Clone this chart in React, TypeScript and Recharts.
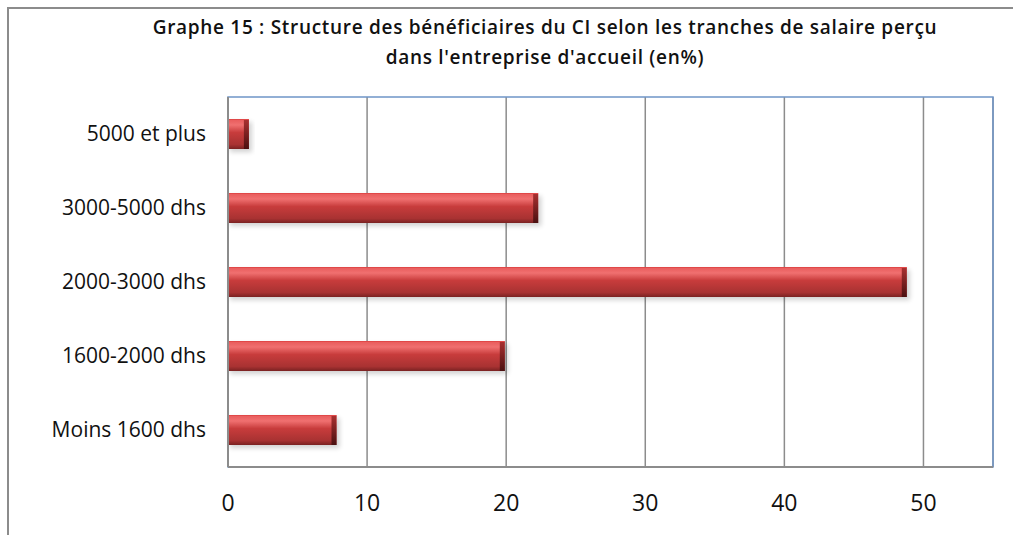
import React from "react";
import { BarChart, Bar, XAxis, YAxis, CartesianGrid, ReferenceArea } from "recharts";

const categories = ["5000 et plus", "3000-5000 dhs", "2000-3000 dhs", "1600-2000 dhs", "Moins 1600 dhs"];
const values = [1.5, 22.3, 48.8, 19.9, 7.8];
const xTicks = [0, 10, 20, 30, 40, 50];

const data = categories.map((c, i) => ({ cat: c, v: values[i] }));

const FONT = "'Open Sans', Lato, sans-serif";

const BarShape = (props: any) => {
  const { x, y, width, height } = props;
  if (width <= 0) return null;
  const cap = Math.min(5, width / 3);
  return (
    <g>
      <rect x={x + 2} y={y + 3} width={width + 1} height={height} fill="#000" opacity={0.18} filter="url(#blurSh)" />
      <rect x={x} y={y} width={width} height={height} fill="url(#barGrad)" />
      <rect x={x + width - cap} y={y + 1} width={cap} height={height - 1} fill="url(#capGrad)" />
      <line x1={x} x2={x + width} y1={y + 0.5} y2={y + 0.5} stroke="#e04848" strokeWidth={1} />
    </g>
  );
};

export default function App() {
  return (
    <div style={{ position: "absolute", left: 0, top: 0, width: 1013, height: 535, background: "#fff", overflow: "hidden" }}>
      <div style={{ position: "absolute", left: 7, top: 7, width: 1020, height: 540, borderLeft: "2px solid #8c8c8c", borderTop: "2px solid #8c8c8c" }} />
      <div
        style={{
          position: "absolute",
          left: 0,
          width: 1090,
          top: 12,
          textAlign: "center",
          fontFamily: FONT,
          fontSize: 19,
          fontWeight: 600,
          lineHeight: "30px",
          color: "#111",
          letterSpacing: 0.7,
        }}
      >
        Graphe 15 : Structure des bénéficiaires du CI selon les tranches de salaire perçu
        <br />
        dans l'entreprise d'accueil (en%)
      </div>
      <div style={{ position: "absolute", left: 0, top: 0 }}>
        <BarChart
          width={1013}
          height={535}
          data={data}
          layout="vertical"
          margin={{ top: 97, right: 20, bottom: 28, left: 8 }}
          barCategoryGap={22}
        >
          <defs>
            <linearGradient id="barGrad" x1="0" y1="0" x2="0" y2="1">
              <stop offset="0" stopColor="#e85a5a" />
              <stop offset="0.2" stopColor="#f07070" />
              <stop offset="0.45" stopColor="#c83c3c" />
              <stop offset="0.85" stopColor="#a83232" />
              <stop offset="1" stopColor="#7a2222" />
            </linearGradient>
            <linearGradient id="capGrad" x1="0" y1="0" x2="0" y2="1">
              <stop offset="0" stopColor="#a83030" />
              <stop offset="1" stopColor="#4a1010" />
            </linearGradient>
            <filter id="blurSh" x="-10%" y="-50%" width="120%" height="200%">
              <feGaussianBlur stdDeviation="2.5" />
            </filter>
          </defs>
          <CartesianGrid horizontal={false} vertical={true} stroke="#8c8c8c" strokeWidth={1.5} />
          <ReferenceArea x1={0} x2={55} fill="none" stroke="#6f95c8" strokeWidth={1.5} ifOverflow="visible" />
          <XAxis
            type="number"
            dataKey="v"
            domain={[0, 55]}
            ticks={xTicks}
            height={40}
            axisLine={{ stroke: "#8c8c8c", strokeWidth: 2 }}
            tickLine={false}
            tickMargin={22}
            tick={{ fontFamily: FONT, fontSize: 23, fontWeight: 500, fill: "#111" }}
          />
          <YAxis
            type="category"
            dataKey="cat"
            width={220}
            axisLine={{ stroke: "#8c8c8c", strokeWidth: 2 }}
            tickLine={false}
            tickMargin={16}
            tick={{ fontFamily: FONT, fontSize: 21, fontWeight: 500, fill: "#111" }}
          />
          <Bar dataKey="v" isAnimationActive={false} shape={<BarShape />} />
        </BarChart>
      </div>
    </div>
  );
}
